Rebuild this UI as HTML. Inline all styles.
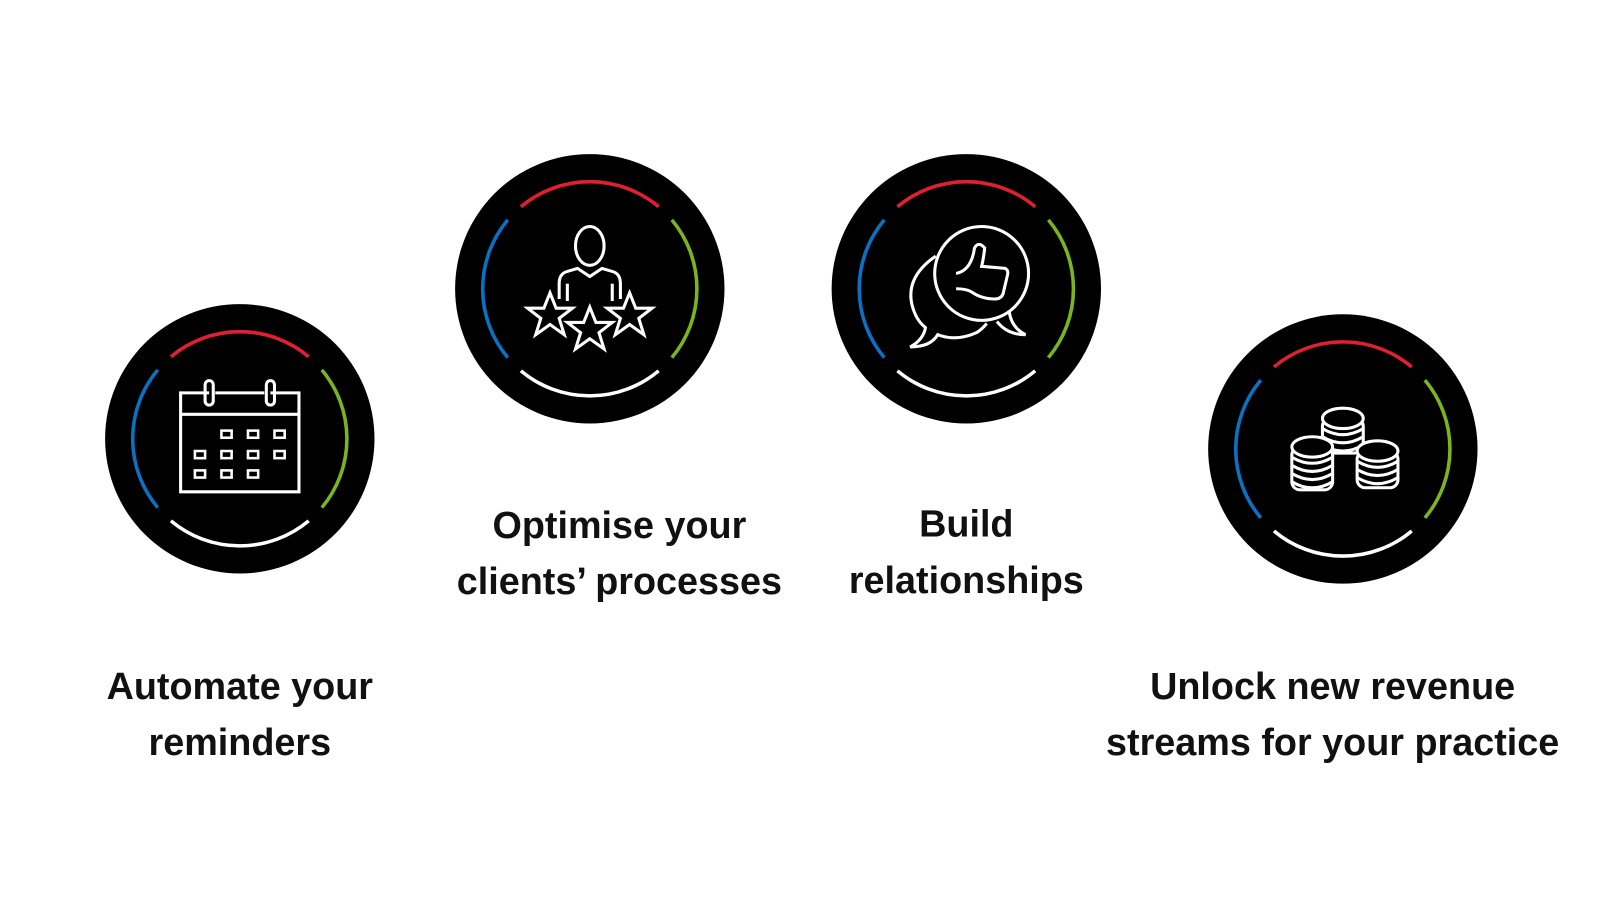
<!DOCTYPE html>
<html><head><meta charset="utf-8"><style>
body{margin:0;background:#fff;width:1600px;height:900px;overflow:hidden;position:relative;font-family:"Liberation Sans",sans-serif}
#w{position:absolute;left:0;top:0;width:1568px;height:882px;transform:scale(1.0204);transform-origin:0 0}
svg{position:absolute;left:0;top:0}
.t{position:absolute;font-weight:bold;font-size:37px;line-height:55px;text-align:center;color:#111;white-space:nowrap;transform:translateX(-50%)}
</style></head><body><div id="w">
<svg width="1568" height="882" viewBox="0 0 1568 882">
<defs>
<g id="ring">
<circle r="132" fill="#000"/>
<g fill="none" stroke-width="3.5">
<path d="M-67.5,-80.4 A105,105 0 0 1 67.5,-80.4" stroke="#e0202f"/>
<path d="M80.4,-67.5 A105,105 0 0 1 80.4,67.5" stroke="#7ab51d"/>
<path d="M67.5,80.4 A105,105 0 0 1 -67.5,80.4" stroke="#fff"/>
<path d="M-80.4,67.5 A105,105 0 0 1 -80.4,-67.5" stroke="#0a72c4"/>
</g>
</g>
</defs>
<g transform="translate(235,430)">
<use href="#ring"/>
<g fill="none" stroke="#fff" stroke-width="3">
<path d="M-30,-45 H-58 V52 H58 V-45 H30 M-24,-45 H24"/>
<line x1="-58" y1="-24" x2="58" y2="-24"/>
<rect x="-34" y="-57" width="8" height="24" rx="4"/>
<rect x="26" y="-57" width="8" height="24" rx="4"/>
<g stroke-width="2.5">
<rect x="-18" y="-8" width="10" height="7"/><rect x="8" y="-8" width="10" height="7"/><rect x="34" y="-8" width="10" height="7"/>
<rect x="-44" y="12" width="10" height="7"/><rect x="-18" y="12" width="10" height="7"/><rect x="8" y="12" width="10" height="7"/><rect x="34" y="12" width="10" height="7"/>
<rect x="-44" y="31" width="10" height="7"/><rect x="-18" y="31" width="10" height="7"/><rect x="8" y="31" width="10" height="7"/>
</g></g></g>
<g transform="translate(578,283)">
<use href="#ring"/>
<g fill="none" stroke="#fff" stroke-width="3">
<ellipse cx="0" cy="-42" rx="14" ry="19"/>
<path d="M-30,10 V-5 Q-30,-15 -22,-17 L-12,-20 L0,-12 L12,-20 L22,-17 Q30,-15 30,-5 V10"/>
<line x1="-22" y1="-5" x2="-22" y2="12"/><line x1="22" y1="-5" x2="22" y2="12"/>
<path d="M0,-22 L6,-7 L22,-7 L9,3 L14,19 L0,9 L-14,19 L-9,3 L-22,-7 L-6,-7Z" transform="translate(-39,26)"/>
<path d="M0,-22 L6,-7 L22,-7 L9,3 L14,19 L0,9 L-14,19 L-9,3 L-22,-7 L-6,-7Z" transform="translate(39,26)"/>
<path d="M0,-22 L6,-7 L22,-7 L9,3 L14,19 L0,9 L-14,19 L-9,3 L-22,-7 L-6,-7Z" transform="translate(0,40)"/>
</g></g>
<g transform="translate(947,283)">
<use href="#ring"/>
<g fill="none" stroke="#fff" stroke-width="3">
<circle cx="15" cy="-15" r="46"/>
<path d="M-30,-32 Q-62,-10 -52,20 Q-48,32 -40,38 Q-42,50 -55,57 Q-35,57 -28,45 Q-10,52 10,43 Q15,40 20,34"/>
<path d="M42,22 Q44,38 58,45 Q40,45 30,32"/>
<path d="M-10,-15 Q5,-18 8,-40 Q12,-47 18,-40 Q17,-30 15,-22 L38,-20 Q42,-18 40,-12 L36,5 Q34,10 28,10 Q15,10 5,3 Q0,0 -10,0"/>
</g></g>
<g transform="translate(1316,440)">
<use href="#ring"/>
<g stroke="#fff" stroke-width="3" fill="#000">
<g transform="translate(0,-30)"><rect x="-20" y="0" width="40" height="34" rx="8"/><ellipse cx="0" cy="0" rx="20" ry="10"/><path d="M-20,10 Q0,22 20,10 M-20,18 Q0,30 20,18 M-20,26 Q0,38 20,26" fill="none"/></g>
<g transform="translate(-30,-2)"><rect x="-20" y="0" width="40" height="42" rx="8"/><ellipse cx="0" cy="0" rx="20" ry="10"/><path d="M-20,10 Q0,22 20,10 M-20,18 Q0,30 20,18 M-20,26 Q0,38 20,26 M-20,34 Q0,46 20,34" fill="none"/></g>
<g transform="translate(34,2)"><rect x="-20" y="0" width="40" height="36" rx="8"/><ellipse cx="0" cy="0" rx="20" ry="10"/><path d="M-20,10 Q0,22 20,10 M-20,18 Q0,30 20,18 M-20,26 Q0,38 20,26" fill="none"/></g>
</g></g>
</svg>
<div class="t" style="left:235px;top:645px">Automate your<br>reminders</div>
<div class="t" style="left:607px;top:487px">Optimise your<br>clients’ processes</div>
<div class="t" style="left:947px;top:486px">Build<br>relationships</div>
<div class="t" style="left:1306px;top:645px">Unlock new revenue<br>streams for your practice</div>
</div></body></html>
